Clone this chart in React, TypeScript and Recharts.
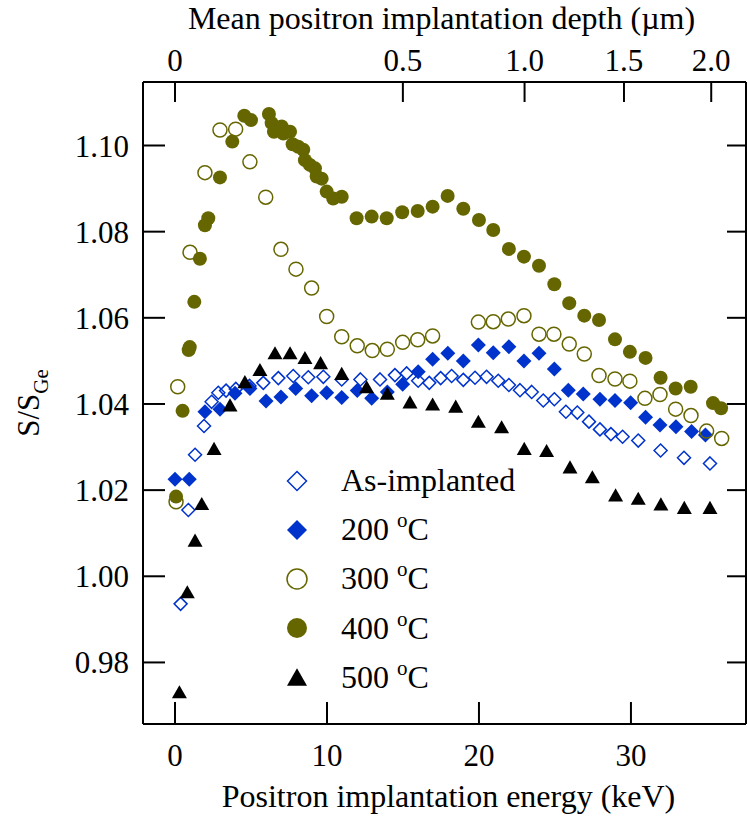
import React from 'react';
import { ScatterChart, Scatter, XAxis, YAxis, Legend } from 'recharts';

const FONT = '"Liberation Serif", "Times New Roman", Times, serif';
const OLIVE = '#666600';
const BLUE = '#0033cc';

// positron energy (keV) and S/S_Ge
const asImplantedE = [0.37, 0.88, 1.32, 1.91, 2.41, 2.85, 3.36, 4.0, 4.9, 5.81, 6.8, 7.78, 8.77, 9.76, 10.97, 12.2, 13.49, 14.47, 15.24, 16.0, 16.73, 17.48, 18.2, 18.97, 19.74, 20.5, 21.27, 21.97, 22.7, 23.47, 24.23, 24.96, 25.72, 26.47, 27.24, 27.96, 28.68, 29.45, 30.48, 31.95, 33.49, 35.2];
const asImplantedS = [0.9936, 1.0154, 1.0282, 1.0349, 1.0405, 1.0426, 1.0431, 1.0435, 1.0442, 1.0449, 1.046, 1.0465, 1.0462, 1.0463, 1.0457, 1.0457, 1.0457, 1.0467, 1.0471, 1.0454, 1.0449, 1.046, 1.0465, 1.0456, 1.0461, 1.0463, 1.0454, 1.0444, 1.0432, 1.0428, 1.0408, 1.0411, 1.0382, 1.038, 1.0359, 1.0341, 1.033, 1.0324, 1.0315, 1.0292, 1.0275, 1.0262];

const t200E = [0.0, 0.94, 1.97, 2.96, 3.95, 4.93, 5.99, 6.97, 7.94, 8.99, 9.98, 10.97, 11.99, 12.94, 13.97, 14.98, 16.0, 16.95, 17.95, 18.97, 19.96, 20.94, 21.97, 22.96, 23.95, 24.96, 25.88, 26.86, 27.96, 28.95, 29.98, 30.96, 31.91, 32.96, 33.99, 34.9];
const t200S = [1.0225, 1.0225, 1.0382, 1.0388, 1.0425, 1.0436, 1.0407, 1.0416, 1.0436, 1.0419, 1.0426, 1.0415, 1.0431, 1.0413, 1.0428, 1.0446, 1.0475, 1.0504, 1.0518, 1.05, 1.0537, 1.0519, 1.0533, 1.05, 1.0518, 1.0481, 1.0432, 1.0423, 1.0411, 1.0408, 1.0403, 1.0369, 1.0351, 1.0347, 1.0336, 1.0328];

const t300E = [0.07, 0.18, 0.99, 1.97, 2.96, 3.99, 4.93, 5.97, 6.97, 7.96, 8.99, 9.98, 10.97, 11.99, 12.98, 13.97, 14.98, 15.97, 16.95, 19.96, 20.94, 21.93, 22.96, 23.95, 24.93, 25.94, 26.93, 27.9, 28.95, 29.93, 30.92, 31.91, 32.94, 33.95, 34.98, 35.97];
const t300S = [1.0173, 1.044, 1.0752, 1.0937, 1.1036, 1.1038, 1.0962, 1.088, 1.0759, 1.0713, 1.0669, 1.0603, 1.0556, 1.0535, 1.0524, 1.0527, 1.0543, 1.0549, 1.0558, 1.059, 1.0591, 1.0597, 1.0605, 1.0562, 1.0562, 1.0539, 1.0516, 1.0466, 1.0458, 1.0453, 1.0413, 1.0422, 1.0388, 1.0373, 1.0337, 1.032];

const t400E = [0.07, 0.5, 0.9, 0.97, 1.27, 1.64, 1.97, 2.19, 2.96, 3.77, 4.56, 5.0, 6.18, 6.36, 6.51, 7.02, 7.13, 7.57, 7.74, 8.11, 8.44, 8.55, 8.88, 9.21, 9.32, 9.65, 9.98, 10.41, 10.97, 11.95, 12.94, 13.93, 14.95, 15.97, 16.95, 17.94, 18.97, 20.0, 20.94, 21.97, 22.96, 23.95, 24.96, 25.94, 26.93, 27.9, 28.95, 29.93, 30.96, 31.95, 32.94, 33.93, 35.4, 35.93];
const t400S = [1.0185, 1.0384, 1.0525, 1.0532, 1.0637, 1.0737, 1.0815, 1.0831, 1.0926, 1.1009, 1.1069, 1.1059, 1.1073, 1.1052, 1.1032, 1.1044, 1.1028, 1.1032, 1.1003, 1.0997, 1.099, 1.0966, 1.0955, 1.0947, 1.0928, 1.0923, 1.0893, 1.0877, 1.0881, 1.0831, 1.0835, 1.0831, 1.0845, 1.0848, 1.0858, 1.0883, 1.0853, 1.0827, 1.0804, 1.076, 1.0742, 1.0721, 1.0678, 1.0634, 1.0605, 1.0595, 1.055, 1.0521, 1.0507, 1.0461, 1.0436, 1.044, 1.0402, 1.039];

const t500E = [0.29, 0.81, 1.32, 1.76, 2.57, 3.62, 4.6, 5.59, 6.58, 7.57, 8.55, 9.58, 10.97, 12.61, 13.97, 15.46, 16.95, 18.47, 19.96, 21.49, 22.98, 24.45, 25.99, 27.46, 28.99, 30.48, 31.97, 33.51, 35.2];
const t500S = [0.9732, 0.9964, 1.0084, 1.0169, 1.0297, 1.0398, 1.0452, 1.048, 1.0519, 1.0519, 1.0508, 1.0496, 1.0471, 1.044, 1.0425, 1.0405, 1.04, 1.0395, 1.036, 1.0347, 1.0297, 1.0292, 1.0254, 1.0231, 1.0189, 1.0181, 1.0168, 1.016, 1.016];

const energyTicks = [0, 10, 20, 30];
const sTicks = [0.98, 1.0, 1.02, 1.04, 1.06, 1.08, 1.1];
const depthTicks = [0, 0.5, 1.0, 1.5, 2.0];
const depthLabels = ['0', '0.5', '1.0', '1.5', '2.0'];

// mean implantation depth ~ E^1.62, 1 µm at 23 keV (fitted to the top axis)
const energyForDepth = (d: number) => 23.0 * Math.pow(d, 1 / 1.62);

const zip = (e: number[], s: number[]) => e.map((x, i) => ({ x, y: s[i] }));

type Kind = 'openDiamond' | 'diamond' | 'openCircle' | 'circle' | 'triangle';

function Marker({ kind, cx, cy, r }: { kind: Kind; cx: number; cy: number; r: number }) {
  if (kind === 'openDiamond' || kind === 'diamond') {
    const pts = `${cx},${cy - r} ${cx + r},${cy} ${cx},${cy + r} ${cx - r},${cy}`;
    return kind === 'diamond' ? (
      <polygon points={pts} fill={BLUE} />
    ) : (
      <polygon points={pts} fill="none" stroke={BLUE} strokeWidth={1.5} />
    );
  }
  if (kind === 'circle') return <circle cx={cx} cy={cy} r={r} fill={OLIVE} />;
  if (kind === 'openCircle') return <circle cx={cx} cy={cy} r={r} fill="none" stroke={OLIVE} strokeWidth={1.5} />;
  const h = r * 1.75;
  return (
    <polygon
      points={`${cx},${cy - h / 2} ${cx + r},${cy + h / 2} ${cx - r},${cy + h / 2}`}
      fill="#000"
    />
  );
}

const series: { name: string; sup: boolean; kind: Kind; r: number; data: { x: number; y: number }[] }[] = [
  { name: 'As-implanted', sup: false, kind: 'openDiamond', r: 6.5, data: zip(asImplantedE, asImplantedS) },
  { name: '200 ', sup: true, kind: 'diamond', r: 7.5, data: zip(t200E, t200S) },
  { name: '300 ', sup: true, kind: 'openCircle', r: 7, data: zip(t300E, t300S) },
  { name: '400 ', sup: true, kind: 'circle', r: 7, data: zip(t400E, t400S) },
  { name: '500 ', sup: true, kind: 'triangle', r: 7.5, data: zip(t500E, t500S) },
];

const legendR: Record<Kind, number> = { openDiamond: 9.5, diamond: 10, openCircle: 10, circle: 10, triangle: 10 };

function LegendBox() {
  return (
    <div style={{ fontFamily: FONT, fontSize: 32, color: '#000' }}>
      {series.map((s) => (
        <div key={s.name} style={{ display: 'flex', alignItems: 'center', height: 49.2 }}>
          <svg width={40} height={40} style={{ display: 'block' }}>
            <Marker kind={s.kind} cx={20} cy={20} r={legendR[s.kind]} />
          </svg>
          <span style={{ marginLeft: 24, whiteSpace: 'pre' }}>
            {s.name}
            {s.sup && (
              <>
                <span style={{ fontSize: 21, position: 'relative', top: -13 }}>o</span>C
              </>
            )}
          </span>
        </div>
      ))}
    </div>
  );
}

const YTitle = (props: any) => {
  const { viewBox } = props;
  const x = viewBox.x + 39;
  const y = viewBox.y + viewBox.height / 2;
  return (
    <text transform={`translate(${x},${y}) rotate(-90)`} textAnchor="middle" fontFamily={FONT} fontSize={31} fill="#000">
      S/S<tspan fontSize={21} dy={9}>Ge</tspan>
    </text>
  );
};

const BottomTitle = (props: any) => {
  const { viewBox } = props;
  return (
    <text x={viewBox.x + viewBox.width / 2 + 4} y={viewBox.y + 83} textAnchor="middle" fontFamily={FONT} fontSize={32} fill="#000">
      Positron implantation energy (keV)
    </text>
  );
};

const TopTitle = (props: any) => {
  const { viewBox } = props;
  return (
    <text x={viewBox.x + viewBox.width / 2 - 3} y={29} textAnchor="middle" fontFamily={FONT} fontSize={32} fill="#000">
      Mean positron implantation depth (µm)
    </text>
  );
};

const tickStyle = { fontSize: 31, fill: '#000', fontFamily: FONT };
const lineStyle = { stroke: '#000', strokeWidth: 2 };
const xDomain: [number, number] = [-2.105, 37.57];
const yDomain: [number, number] = [0.96571, 1.11474];

export default function App() {
  return (
    <div style={{ position: 'absolute', left: 0, top: 0, background: '#fff' }}>
      <ScatterChart width={747} height={821} margin={{ top: 0, right: 0, bottom: 0, left: 0 }}>
        <XAxis
          xAxisId="bottom"
          type="number"
          dataKey="x"
          domain={xDomain}
          allowDataOverflow
          ticks={energyTicks}
          interval={0}
          height={97}
          tickSize={-22}
          tickMargin={42}
          tick={tickStyle}
          axisLine={lineStyle}
          tickLine={lineStyle}
          label={<BottomTitle />}
        />
        <XAxis
          xAxisId="top"
          orientation="top"
          type="number"
          dataKey="x"
          domain={xDomain}
          allowDataOverflow
          ticks={depthTicks.map(energyForDepth)}
          tickFormatter={(_v: number, i: number) => depthLabels[i]}
          interval={0}
          height={82}
          tickSize={-20}
          tickMargin={31}
          tick={tickStyle}
          axisLine={lineStyle}
          tickLine={lineStyle}
          label={<TopTitle />}
        />
        <YAxis
          yAxisId="left"
          type="number"
          dataKey="y"
          domain={yDomain}
          allowDataOverflow
          ticks={sTicks}
          interval={0}
          tickFormatter={(v: number) => v.toFixed(2)}
          width={143}
          tickSize={-22}
          tickMargin={36}
          tick={tickStyle}
          axisLine={lineStyle}
          tickLine={lineStyle}
          label={<YTitle />}
        />
        <YAxis
          yAxisId="right"
          orientation="right"
          type="number"
          dataKey="y"
          domain={yDomain}
          allowDataOverflow
          ticks={sTicks}
          interval={0}
          tickFormatter={() => ''}
          width={1}
          tickSize={-19}
          tickMargin={0}
          axisLine={lineStyle}
          tickLine={lineStyle}
        />
        {series.map((s) => (
          <Scatter
            key={s.name}
            name={s.name}
            data={s.data}
            xAxisId="bottom"
            yAxisId="left"
            isAnimationActive={false}
            shape={(p: any) => <Marker kind={s.kind} cx={p.cx} cy={p.cy} r={s.r} />}
          />
        ))}
        <Legend
          layout="vertical"
          align="center"
          verticalAlign="middle"
          content={() => <LegendBox />}
          wrapperStyle={{ left: 277, top: 456, width: 320, height: 250 }}
        />
      </ScatterChart>
    </div>
  );
}
